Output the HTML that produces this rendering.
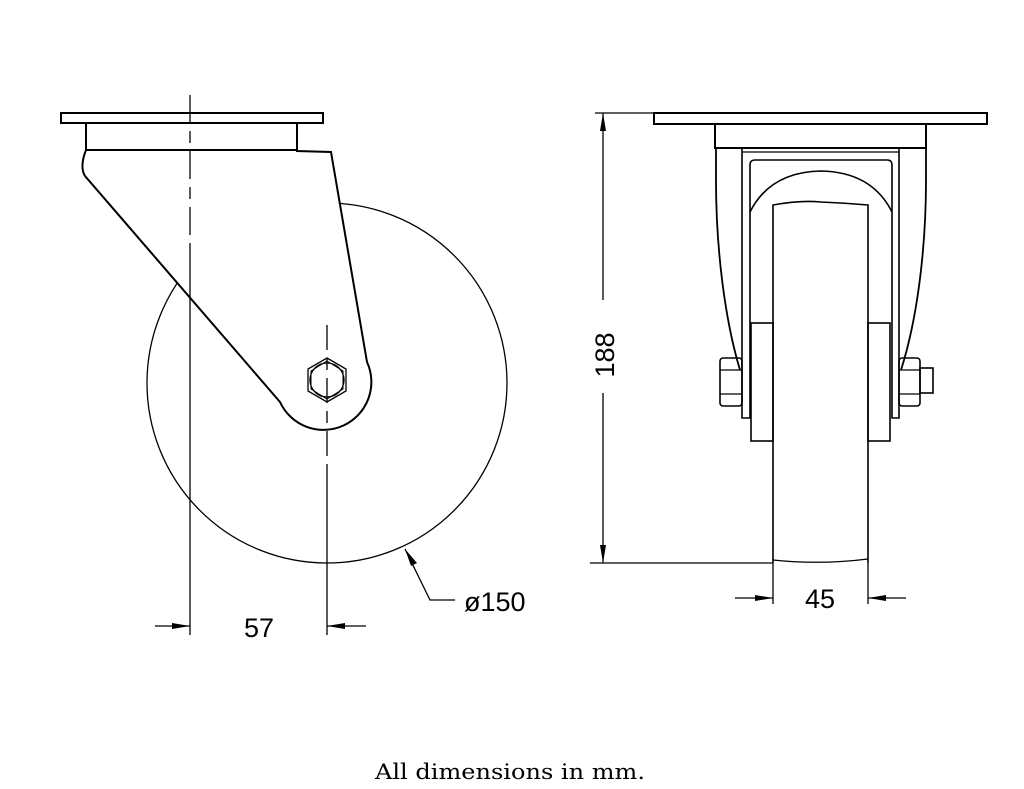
<!DOCTYPE html>
<html><head><style>body{margin:0;background:#fff}svg{display:block}</style></head><body>
<svg width="1024" height="789" viewBox="0 0 1024 789" xmlns="http://www.w3.org/2000/svg" fill="none" stroke="#000" stroke-width="1.6" font-family="Liberation Sans, sans-serif">
<!-- LEFT VIEW -->
<circle cx="327" cy="383" r="180" stroke-width="1.3"/>
<path d="M86,150 C82,160 81,170 85,176 L280,402 A40,40 0 0 0 367,362 L331,152 L297,151 L297,123" fill="#fff" stroke-width="2"/>
<rect x="61" y="113" width="262" height="10" fill="#fff" stroke-width="2"/>
<rect x="86" y="123" width="211" height="27" fill="#fff" stroke-width="2"/>
<polygon points="327,358 346,369 346,391 327,402 308,391 308,369" stroke-width="1.3"/>
<polygon points="327,361 343,371 343,389 327,399 311,389 311,371" stroke-width="1"/>
<circle cx="327" cy="380" r="17" stroke-width="1.3"/>
<line x1="190" y1="95" x2="190" y2="243" stroke-dasharray="28,8,12,8" stroke-width="1.3"/>
<line x1="190" y1="243" x2="190" y2="635" stroke-width="1.3"/>
<line x1="327" y1="325" x2="327" y2="470" stroke-dasharray="25,8,12,8" stroke-width="1.3"/>
<line x1="327" y1="470" x2="327" y2="635" stroke-width="1.3"/>
<!-- 57 dim -->
<line x1="155" y1="626" x2="190" y2="626" stroke-width="1.3"/>
<polygon points="190,626 172,623 172,629" fill="#000" stroke="none"/>
<line x1="327" y1="626" x2="366" y2="626" stroke-width="1.3"/>
<polygon points="327,626 345,623 345,629" fill="#000" stroke="none"/>
<text x="259" y="637" font-size="27" text-anchor="middle" fill="#000" stroke="none">57</text>
<!-- dia leader -->
<polyline points="405,549 430,600 455,600" stroke-width="1.3"/>
<polygon points="405,549 417,563 411,566" fill="#000" stroke="none"/>
<text x="464" y="611" font-size="27" fill="#000" stroke="none">ø150</text>
<!-- RIGHT VIEW -->
<rect x="654" y="113" width="333" height="11" stroke-width="2"/>
<rect x="715" y="124" width="211" height="24" stroke-width="2"/>
<path d="M716,148 L716,180 C716,250 725,320 740,370" stroke-width="1.8"/>
<path d="M926,148 L926,180 C926,250 917,320 901,370" stroke-width="1.8"/>
<path d="M742,148 L742,418 L750,418 L750,165 Q750,160 755,160 L887,160 Q892,160 892,165 L892,418 L899,418 L899,148" stroke-width="1.6"/>
<line x1="742" y1="152" x2="899" y2="152" stroke-width="1.3"/>
<path d="M750,212 Q770,172 821,171 Q872,172 892,212" stroke-width="1.6"/>
<rect x="751" y="323" width="22" height="118" stroke-width="1.6"/>
<rect x="868" y="323" width="22" height="118" stroke-width="1.6"/>
<path d="M773,563 L773,205 Q800,200 821,202 Q845,203 868,205 L868,563" stroke-width="1.6"/>
<path d="M773,560 Q820,565 868,559" stroke-width="1.2"/>
<rect x="720" y="358" width="22" height="48" rx="3" stroke-width="1.6"/>
<line x1="720" y1="370" x2="742" y2="370" stroke-width="1.2"/><line x1="720" y1="394" x2="742" y2="394" stroke-width="1.2"/>
<rect x="899" y="358" width="21" height="48" rx="3" stroke-width="1.6"/>
<line x1="899" y1="370" x2="920" y2="370" stroke-width="1.2"/><line x1="899" y1="394" x2="920" y2="394" stroke-width="1.2"/>
<rect x="920" y="368" width="13" height="25" stroke-width="1.6"/>
<!-- 188 dim -->
<line x1="595" y1="113" x2="654" y2="113" stroke-width="1.3"/>
<line x1="590" y1="563" x2="773" y2="563" stroke-width="1.3"/>
<line x1="603" y1="113" x2="603" y2="300" stroke-width="1.3"/>
<line x1="603" y1="393" x2="603" y2="563" stroke-width="1.3"/>
<polygon points="603,113 600,131 606,131" fill="#000" stroke="none"/>
<polygon points="603,563 600,545 606,545" fill="#000" stroke="none"/>
<text transform="translate(614,355) rotate(-90)" font-size="27" text-anchor="middle" fill="#000" stroke="none">188</text>
<!-- 45 dim -->
<line x1="773" y1="563" x2="773" y2="604" stroke-width="1.3"/>
<line x1="868" y1="563" x2="868" y2="604" stroke-width="1.3"/>
<line x1="735" y1="598" x2="773" y2="598" stroke-width="1.3"/>
<polygon points="773,598 755,595 755,601" fill="#000" stroke="none"/>
<line x1="868" y1="598" x2="906" y2="598" stroke-width="1.3"/>
<polygon points="868,598 886,595 886,601" fill="#000" stroke="none"/>
<text x="820" y="608" font-size="27" text-anchor="middle" fill="#000" stroke="none">45</text>
<text x="510" y="779" font-size="21" font-family="DejaVu Serif, serif" text-anchor="middle" fill="#000" stroke="none" textLength="270" lengthAdjust="spacingAndGlyphs">All dimensions in mm.</text>
</svg>
</body></html>
